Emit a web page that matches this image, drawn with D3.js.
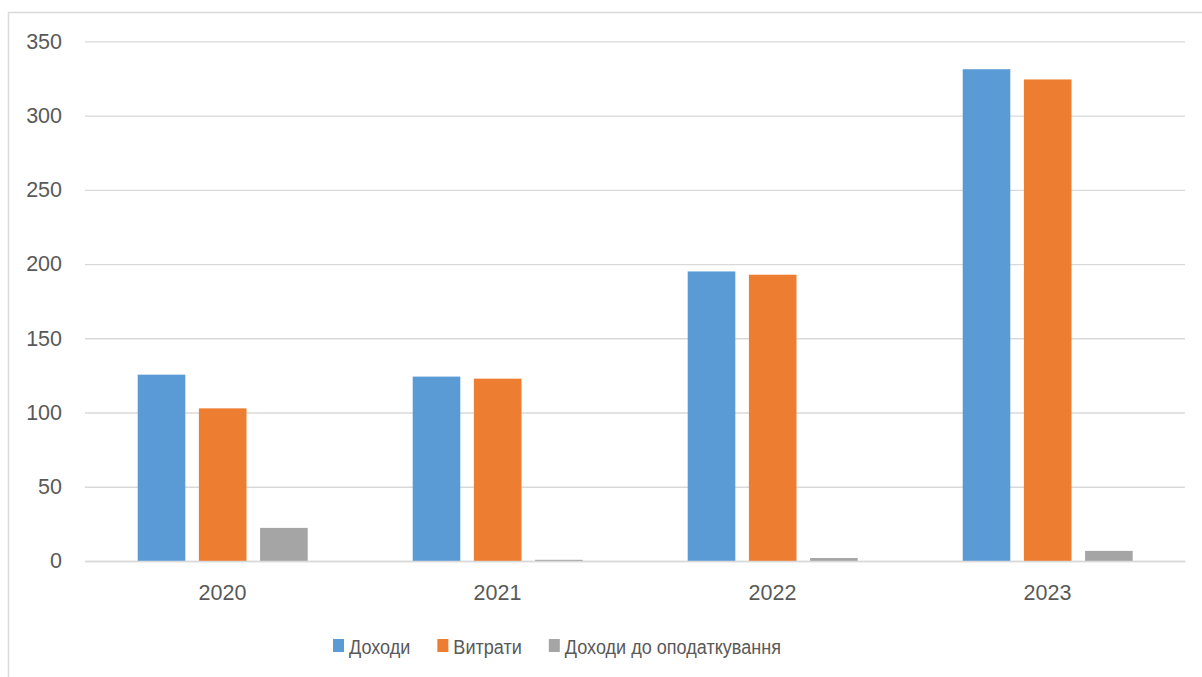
<!DOCTYPE html>
<html><head><meta charset="utf-8">
<script src="https://cdnjs.cloudflare.com/ajax/libs/d3/7.8.5/d3.min.js"></script>
<style>body{margin:0;background:#fff}svg{display:block}</style>
</head><body><svg id="c" width="1202" height="677"></svg>
<script>
const categories = ["2020","2021","2022","2023"];
const seriesNames = ["Доходи","Витрати","Доходи до оподаткування"];
const income = [125.5, 124.2, 195.0, 331.2];
const expenses = [102.8, 122.8, 192.8, 324.3];
const preTax = [22.3, 0.8, 2.0, 6.8];
const yTicks = [0,50,100,150,200,250,300,350];
const colors = ["#5b9bd5","#ed7d31","#a5a5a5"];
const seriesValues = [income, expenses, preTax];
const FONT = "'Liberation Sans', Arial, sans-serif";

(function(){
const svg = d3.select("#c");
svg.append("rect").attr("x",8.5).attr("y",12.5).attr("width",1300).attr("height",700)
  .attr("fill","#fff").attr("stroke","#d9d9d9").attr("stroke-width",1.5);

const pl=85, pr=1185, pt=41.3, pb=561;
const y = d3.scaleLinear().domain([0,350]).range([pb, pt]);
const x0 = d3.scaleBand().domain(categories).range([pl,pr]).padding(0);
const x1 = d3.scaleBand().domain(d3.range(3)).range([52.7, 222.7]).paddingInner(0.222).paddingOuter(0);

const yAxis = d3.axisLeft(y).tickValues(yTicks).tickSize(-(pr-pl)).tickPadding(23);
const gy = svg.append("g").attr("transform",`translate(${pl},0)`).call(yAxis);
gy.select(".domain").remove();
gy.selectAll(".tick line").attr("stroke","#d9d9d9").attr("stroke-width",1.3);
gy.selectAll(".tick text").attr("fill","#595959").style("font-family",FONT).style("font-size","21.5px");

const groups = svg.append("g").selectAll("g").data(categories).join("g")
  .attr("transform",d=>`translate(${x0(d)},0)`);
groups.selectAll("rect").data((d,i)=>seriesValues.map((s,k)=>({k, v:s[i]}))).join("rect")
  .attr("x",d=>x1(d.k)).attr("width",x1.bandwidth())
  .attr("y",d=>y(d.v)).attr("height",d=>pb-y(d.v))
  .attr("fill",d=>colors[d.k]);

const xAxis = d3.axisBottom(x0).tickSize(0).tickPadding(24);
const gx = svg.append("g").attr("transform",`translate(0,${pb})`).call(xAxis);
gx.select(".domain").attr("stroke","#d9d9d9").attr("stroke-width",1.3);
gx.selectAll(".tick text").attr("fill","#595959").style("font-family",FONT).style("font-size","21.5px");

const leg = svg.append("g");
const sx = 0.86;
let lx = 333;
seriesNames.forEach((name,k)=>{
  leg.append("rect").attr("x",lx).attr("y",639).attr("width",11).attr("height",13).attr("fill",colors[k]);
  const t = leg.append("text").attr("transform",`translate(${lx+16},653.5) scale(${sx},1)`).text(name)
    .attr("fill","#595959").style("font-family",FONT).style("font-size","21px");
  lx = lx + 16 + t.node().getComputedTextLength()*sx + 27;
});
})();
</script></body></html>
